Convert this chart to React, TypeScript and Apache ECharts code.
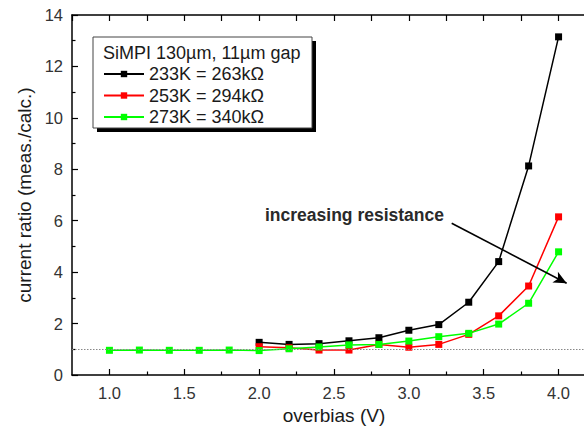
import React, { useEffect, useRef } from "react";
import * as echarts from "echarts";

const xLow = [1.0, 1.2, 1.4, 1.6, 1.8];
const xHigh = [2.0, 2.2, 2.4, 2.6, 2.8, 3.0, 3.2, 3.4, 3.6, 3.8, 4.0];
const black233 = [1.27, 1.19, 1.22, 1.33, 1.45, 1.74, 1.96, 2.83, 4.41, 8.13, 13.15];
const red253 = [1.1, 1.06, 0.97, 0.97, 1.19, 1.08, 1.19, 1.58, 2.3, 3.46, 6.15];
const greenLow = [0.96, 0.97, 0.96, 0.96, 0.97];
const green273 = [0.95, 1.02, 1.09, 1.17, 1.19, 1.32, 1.49, 1.62, 1.98, 2.79, 4.79];
const seriesNames = ["233K = 263k\u03A9", "253K = 294k\u03A9", "273K = 340k\u03A9"];
const majorX = [1.0, 1.5, 2.0, 2.5, 3.0, 3.5, 4.0];
const minorX = [1.25, 1.75, 2.25, 2.75, 3.25, 3.75];
const legendTitle = "SiMPI 130\u00B5m, 11\u00B5m gap";
const annotation = "increasing resistance";
const arrowFrom = [3.286, 5.9];
const arrowTo = [4.054, 3.57];
const refLevel = 1;

const FONT = "Liberation Sans, Arial, sans-serif";
const TXT = "#1a1a1a";

export default function App() {
  const ref = useRef<HTMLDivElement>(null);
  useEffect(() => {
    if (!ref.current) return;
    const chart = echarts.init(ref.current, null, { renderer: "svg" });
    const pairs = (xs: number[], ys: number[]) => xs.map((x, i) => [x, ys[i]]);
    const mk = (name: string, color: string, data: number[][], z: number) => ({
      name,
      type: "line",
      data,
      xAxisIndex: 0,
      yAxisIndex: 0,
      symbol: "rect",
      symbolSize: 7,
      showSymbol: true,
      z,
      lineStyle: { color, width: 1.5 },
      itemStyle: { color },
      emphasis: { disabled: true },
    });
    const option: any = {
      animation: false,
      textStyle: { fontFamily: FONT },
      grid: { left: 72, top: 15, width: 524, height: 360, containLabel: false, outerBoundsMode: "none" },
      legend: {
        data: seriesNames,
        orient: "vertical",
        left: 103,
        top: 65,
        padding: 0,
        z: 100,
        itemWidth: 40,
        itemHeight: 8,
        itemGap: 3.5,
        selectedMode: false,
        textStyle: { fontSize: 18, color: TXT, fontFamily: FONT, lineHeight: 18 },
      },
      xAxis: [
        {
          type: "value",
          position: "bottom",
          min: 0.75,
          max: 4.25,
          name: "overbias (V)",
          nameLocation: "middle",
          nameGap: 29,
          nameTextStyle: { fontSize: 19, color: TXT, fontFamily: FONT },
          axisLine: { show: true, onZero: false, lineStyle: { color: "#000", width: 1.5 } },
          axisTick: { show: true, inside: true, length: 6, customValues: majorX, lineStyle: { color: "#000", width: 1.2 } },
          axisLabel: {
            show: true,
            customValues: majorX,
            margin: 9,
            fontSize: 16.5,
            color: "#333",
            fontFamily: FONT,
            formatter: (v: number) => v.toFixed(1),
          },
          splitLine: { show: false },
        },
        {
          type: "value",
          position: "bottom",
          min: 0.75,
          max: 4.25,
          axisLine: { show: false, onZero: false },
          axisTick: { show: true, inside: true, length: 3.5, customValues: minorX, lineStyle: { color: "#000", width: 1.2 } },
          axisLabel: { show: false },
          splitLine: { show: false },
        },
        {
          type: "value",
          position: "top",
          min: 0.75,
          max: 4.25,
          interval: 0.25,
          axisLine: { show: true, onZero: false, lineStyle: { color: "#000", width: 1.5 } },
          axisTick: { show: true, inside: true, length: 6, lineStyle: { color: "#000", width: 1.2 } },
          axisLabel: { show: false },
          splitLine: { show: false },
        },
      ],
      yAxis: [
        {
          type: "value",
          min: 0,
          max: 14,
          interval: 2,
          name: "current ratio (meas./calc.)",
          nameLocation: "middle",
          nameGap: 34,
          nameTextStyle: { fontSize: 19, color: TXT, fontFamily: FONT },
          axisLine: { show: true, onZero: false, lineStyle: { color: "#000", width: 1.5 } },
          axisTick: { show: true, inside: true, length: 6, lineStyle: { color: "#000", width: 1.2 } },
          minorTick: { show: true, splitNumber: 2, length: 3.5, lineStyle: { color: "#000", width: 1.2 } },
          axisLabel: { margin: 9, fontSize: 16.5, color: "#333", fontFamily: FONT },
          splitLine: { show: false },
        },
      ],
      series: [
        {
          name: "__ref",
          type: "line",
          data: [],
          z: 1,
          silent: true,
          markLine: {
            silent: true,
            animation: false,
            label: { show: false },
            emphasis: { disabled: true },
            data: [
              {
                yAxis: refLevel,
                symbol: "none",
                lineStyle: { color: "#888", type: [1.5, 1.5], width: 1 },
              },
              [
                { coord: arrowFrom, symbol: "none", lineStyle: { color: "#000", type: "solid", width: 1.6 } },
                { coord: arrowTo, symbol: "arrow", symbolSize: [9, 13] },
              ],
            ],
            symbol: ["none", "none"],
          },
        },
        mk(seriesNames[0], "#000000", pairs(xHigh, black233), 2),
        mk(seriesNames[1], "#ff0000", pairs(xHigh, red253), 3),
        mk(seriesNames[2], "#00ff00", [...pairs(xLow, greenLow), ...pairs(xHigh, green273)], 4),
      ],
      graphic: [
        { type: "rect", z: 50, shape: { x: 97, y: 41, width: 219, height: 91 }, style: { fill: "#000" } },
        { type: "rect", z: 51, shape: { x: 93, y: 37, width: 219, height: 91 }, style: { fill: "#fff", stroke: "#444", lineWidth: 1 } },
        {
          type: "text",
          z: 52,
          x: 103,
          y: 53,
          style: { text: legendTitle, fontSize: 18, fill: TXT, fontFamily: FONT, verticalAlign: "middle" },
        },
        {
          type: "text",
          z: 52,
          x: 265,
          y: 215,
          style: { text: annotation, fontSize: 17.5, fontWeight: "bold", fill: "#2a2a2a", fontFamily: FONT, verticalAlign: "middle" },
        },
      ],
    };
    chart.setOption(option);
    return () => chart.dispose();
  }, []);
  return <div ref={ref} style={{ position: "fixed", left: 0, top: 0, width: 584, height: 432, background: "#fff" }} />;
}
